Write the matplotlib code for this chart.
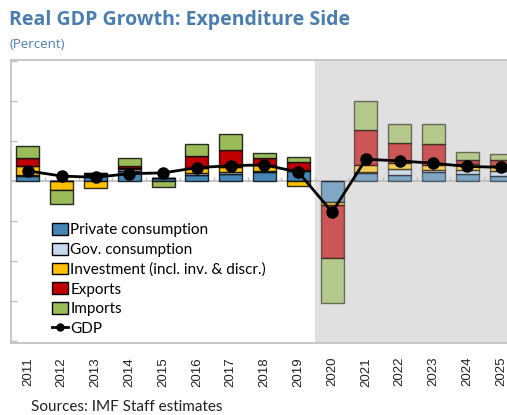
import numpy as np
import matplotlib.pyplot as plt
from matplotlib.colors import to_rgba
from matplotlib.patches import Patch
from matplotlib.lines import Line2D

years = [str(y) for y in range(2011, 2026)]
private = [0.6, 0.0, 0.75, 1.2, 0.3, 0.75, 0.85, 1.15, 1.25, -2.65, 0.95, 0.75, 1.1, 0.85, 0.6]
gov = [0.1, 0.0, 0.1, 0.25, 0.0, 0.2, 0.3, 0.1, 0.1, 0.0, 0.1, 0.75, 0.25, 0.5, 0.6]
invest = [1.2, -1.1, -0.9, 0.2, 0.0, 0.7, 0.6, 0.75, -0.7, -0.4, 0.95, 0.7, 0.6, 0.75, 0.6]
exports = [0.9, 0.0, 0.15, 0.2, 0.0, 1.45, 2.1, 0.85, 1.05, -6.6, 4.35, 2.5, 2.6, 0.5, 0.75]
imports = [1.5, -1.8, 0.0, 1.0, -0.8, 1.5, 1.95, 0.6, 0.6, -5.6, 3.65, 2.4, 2.5, 0.95, 0.85]
gdp = [1.25, 0.6, 0.45, 0.9, 1.0, 1.65, 1.9, 2.0, 1.1, -3.9, 2.7, 2.5, 2.2, 1.8, 1.7]

series = [("Private consumption", private, "#4586b6"),
          ("Gov. consumption", gov, "#c6d9f1"),
          ("Investment (incl. inv. & discr.)", invest, "#ffc000"),
          ("Exports", exports, "#c00000"),
          ("Imports", imports, "#9bbb59")]
first_proj = 9  # shaded from 2020 on
title_col = "#4a7eb1"
grey = "#bfbfbf"

fig = plt.figure(figsize=(5.07, 4.15), dpi=100)
ax = fig.add_axes([11 / 507, 1 - 343 / 415, 507 / 507, 283 / 415])

x = np.arange(len(years))
ax.axvspan(first_proj - 0.5, len(years) + 1, color="#e0e0e0", zorder=0, lw=0)

pos_base = np.zeros(len(years))
neg_base = np.zeros(len(years))
for name, vals, col in series:
    vals = np.array(vals)
    bottom = np.where(vals >= 0, pos_base, neg_base)
    alpha = np.where(x >= first_proj, 0.62, 1.0)
    faces = [to_rgba(col, a) for a in alpha]
    edges = [to_rgba("black", a * 0.8) for a in alpha]
    ax.bar(x, vals, 0.68, bottom=bottom, color=faces, edgecolor=edges,
           linewidth=1.0, zorder=3)
    pos_base += np.clip(vals, 0, None)
    neg_base += np.clip(vals, None, 0)

ax.axhline(0, color=grey, lw=1.2, zorder=2)
ax.vlines(x[:-1] + 0.5, 0, 0.5, color=grey, lw=1, zorder=2)
ax.plot(x, gdp, color="black", lw=2, marker="o", ms=8, zorder=5)

ax.set_xlim(-0.5, len(years) - 0.5)
ax.set_ylim(-20.25, 15.1)
ax.set_yticks(np.arange(-20, 16, 5))
ax.set_yticklabels([])
ax.tick_params(axis="y", direction="in", length=4, color=grey, width=1)
ax.set_xticks(x)
ax.set_xticklabels(years, rotation=90, fontsize=9.5, family="Liberation Sans", color="#222222")
ax.tick_params(axis="x", length=0, pad=10)
for s in ax.spines.values():
    s.set_color(grey)
    s.set_linewidth(1.2)

handles = [Patch(facecolor=c, edgecolor="black", label=n) for n, _, c in series]
handles.append(Line2D([], [], color="black", lw=2, marker="o", ms=5, label="GDP"))
leg = ax.legend(handles=handles, loc="upper left", bbox_to_anchor=(0.066, 0.45),
                frameon=False, handlelength=1.05, handleheight=0.8,
                handletextpad=0.15, labelspacing=0.36, borderpad=0,
                prop={"family": "Lato", "size": 11})

fig.text(9 / 507, 1 - 10 / 415, "Real GDP Growth: Expenditure Side", color=title_col,
         fontsize=14, fontweight="bold", family="Open Sans", va="top")
fig.text(9 / 507, 1 - 38 / 415, "(Percent)", color=title_col, fontsize=9.5,
         family="Open Sans", va="top")
fig.text(31 / 507, 1.5 / 415, "Sources: IMF Staff estimates", color="#222222",
         fontsize=11, family="Lato", va="bottom")

fig.savefig("out.png", dpi=100)
